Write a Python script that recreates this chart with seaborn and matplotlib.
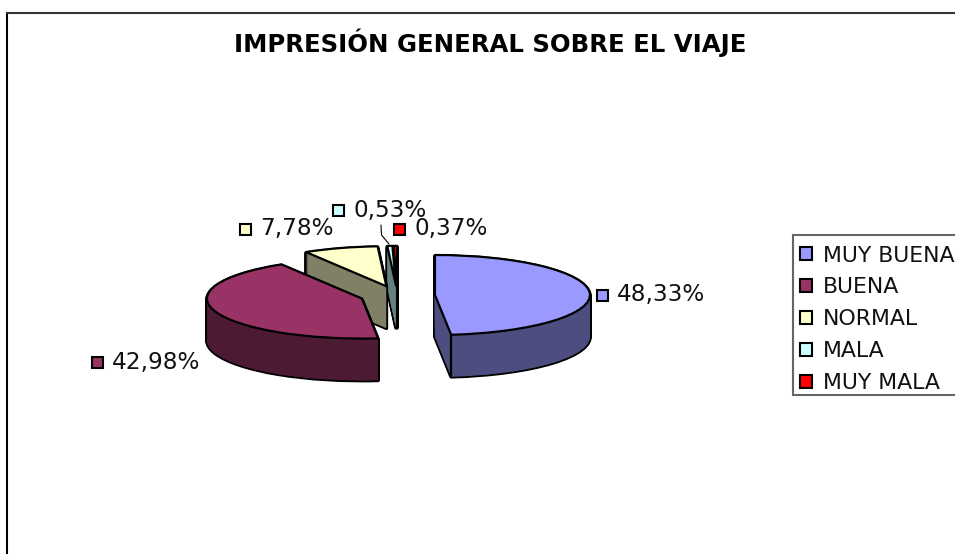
import numpy as np
import seaborn as sns
import matplotlib.pyplot as plt
from matplotlib.patches import Patch, Rectangle
from matplotlib.lines import Line2D

categories = ['MUY BUENA', 'BUENA', 'NORMAL', 'MALA', 'MUY MALA']
values = [48.33, 42.98, 7.78, 0.53, 0.37]
value_labels = ['48,33%', '42,98%', '7,78%', '0,53%', '0,37%']
colors = ['#9999FF', '#993366', '#FFFFCC', '#CCFFFF', '#FF0000']
title = 'IMPRESIÓN GENERAL SOBRE EL VIAJE'

W, H = 955, 554
cx, cy = 397.5, 295.5   # pie centre, pixels
rx, ry = 155, 40        # squashed radii, pixels
depth = 42

sns.set_theme(style='white')
plt.rcParams['font.family'] = ['DejaVu Sans']
palette = sns.color_palette(colors)
side = [tuple(np.array(c) * 0.5) for c in palette]
explode = [0.242] * len(values)

fig = plt.figure(figsize=(W / 100, H / 100), dpi=100, facecolor='white')
ax = fig.add_axes([7 / W, 0, (W - 7) / W, (H - 13) / H])


def draw_pie(offset, cols, edge, lw, level):
    wedges, _ = ax.pie(values, explode=explode, colors=cols, startangle=90,
                       counterclock=False, center=(0, -offset / ry),
                       wedgeprops={'edgecolor': edge, 'linewidth': lw, 'joinstyle': 'round'})
    # back slices first, front ones over them
    for i, w in enumerate(wedges):
        w.set_zorder((len(values) - i) * 10 + level)
    return wedges


for d in range(depth, 0, -1):
    draw_pie(d, side, 'black', 2.6, 1)
for d in range(depth, 0, -1):
    draw_pie(d, side, 'none', 0, 2)
top = draw_pie(0, palette, 'black', 1.6, 3)

# corner between the flat cut and the round side of the first slice
w = top[0]
corner = np.deg2rad(w.theta1)
x0 = w.center[0] + np.cos(corner)
y0 = w.center[1] + np.sin(corner)
ax.plot([x0, x0], [y0, y0 - depth / ry], color='black', lw=1.6, zorder=54)

ax.set_aspect('auto')
ax.set_xlim((7 - cx) / rx, (W - cx) / rx)
ax.set_ylim((cy - H) / ry, (cy - 13) / ry)
ax.set_frame_on(True)
ax.spines['right'].set_visible(False)
ax.spines['bottom'].set_visible(False)
ax.spines['left'].set_color('black')
ax.spines['top'].set_color('#333333')
ax.spines['left'].set_linewidth(1.5)
ax.spines['top'].set_linewidth(1.5)

fig.text(490.5 / W, 1 - 43 / H, title, ha='center', va='center', fontsize=17.6,
         fontweight='bold', color='black')

label_pos = [(617, 295), (112, 362), (260, 229), (353, 210), (414, 229)]
for lab, col, (x, y) in zip(value_labels, palette, label_pos):
    fig.text(x / W, 1 - y / H, lab, ha='left', va='center', fontsize=16.7, color='#111111')
    fig.add_artist(Rectangle(((x - 20) / W, 1 - (y + 6) / H), 11 / W, 11 / H,
                             transform=fig.transFigure, facecolor=col,
                             edgecolor='black', linewidth=1.5))

# leader line of the 0,53% label
fig.add_artist(Line2D([381 / W, 381.5 / W, 389 / W],
                      [1 - 225 / H, 1 - 235 / H, 1 - 244 / H],
                      color='black', lw=0.8))

# legend box is uneven above and below the rows, so it is drawn apart
fig.add_artist(Rectangle((793 / W, 1 - 395 / H), 200 / W, 160 / H,
                         transform=fig.transFigure, facecolor='white',
                         edgecolor='#666666', linewidth=1.5))
handles = [Patch(facecolor=c, edgecolor='black', linewidth=1.5) for c in palette]
leg = fig.legend(handles, categories, loc='upper left',
                 bbox_to_anchor=(793 / W, 1 - 239 / H), bbox_transform=fig.transFigure,
                 fontsize=15.8, frameon=False, borderaxespad=0, borderpad=0.3,
                 labelspacing=0.54, handlelength=0.55, handleheight=0.55,
                 handletextpad=0.5, labelcolor='#111111')
leg.set_zorder(10)

fig.savefig('out.png', dpi=100)
